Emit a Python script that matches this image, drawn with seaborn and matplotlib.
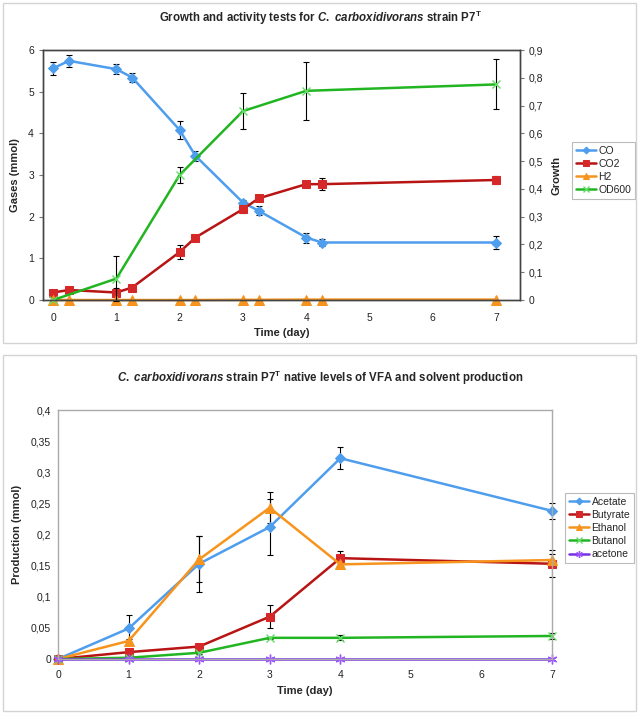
import numpy as np
import pandas as pd
import seaborn as sns
import matplotlib.pyplot as plt
from matplotlib.patches import Rectangle
from matplotlib.ticker import FuncFormatter, MultipleLocator

sns.set_style("white")
plt.rcParams['font.family'] = ['Liberation Sans', 'DejaVu Sans']
plt.rcParams['mathtext.fontset'] = 'custom'
plt.rcParams['mathtext.rm'] = 'Liberation Sans:bold'
plt.rcParams['mathtext.it'] = 'Liberation Sans:italic:bold'
plt.rcParams['mathtext.bf'] = 'Liberation Sans:bold'

# --- top chart data: gases (mmol) and growth (OD600)
t_gas = [0, 0.25, 1, 1.25, 2, 2.25, 3, 3.25, 4, 4.25, 7]
co = [5.56, 5.74, 5.54, 5.34, 4.08, 3.46, 2.34, 2.14, 1.50, 1.38, 1.38]
co_err = [0.15, 0.15, 0.12, 0.10, 0.22, 0.12, 0.06, 0.11, 0.12, 0.09, 0.15]
co2 = [0.18, 0.24, 0.18, 0.30, 1.15, 1.50, 2.18, 2.44, 2.78, 2.78, 2.88]
co2_err = [0.03, 0.06, 0.10, 0.03, 0.16, 0.04, 0.10, 0.04, 0.06, 0.14, 0.10]
h2 = [0, 0, 0, 0, 0, 0, 0.005, 0.005, 0.01, 0.01, 0.01]

t_od = [0, 1, 2, 3, 4, 7]
od600 = [0.0, 0.077, 0.45, 0.68, 0.753, 0.776]
od600_err = [0, 0.082, 0.03, 0.065, 0.105, 0.09]

# --- bottom chart data: production (mmol)
t_prod = [0, 1, 2, 3, 4, 7]
acetate = [0, 0.049, 0.153, 0.212, 0.3225, 0.238]
acetate_err = [0, 0.022, 0.045, 0.045, 0.018, 0.013]
butyrate = [0, 0.011, 0.020, 0.068, 0.162, 0.153]
butyrate_err = [0, 0.003, 0.003, 0.018, 0.012, 0.022]
ethanol = [0, 0.029, 0.160, 0.243, 0.152, 0.159]
ethanol_err = [0, 0.003, 0.037, 0.025, 0.005, 0.010]
butanol = [0, 0.002, 0.010, 0.034, 0.034, 0.037]
butanol_err = [0, 0.001, 0.002, 0.002, 0.004, 0.005]
acetone = [0, 0, 0, 0, 0, 0]

BLUE = '#4f9ded'
RED_L = '#b81414'
RED_M = '#d62828'
ORANGE = '#f7941d'
GREEN = '#22b522'
GREEN_M = '#66dd66'
PURPLE = '#7a2ee6'

W, H = 640, 714
fig = plt.figure(figsize=(W / 100, H / 100), dpi=100)


def px_axes(l, t, r, b):
    return fig.add_axes([l / W, 1 - b / H, (r - l) / W, (b - t) / H])


def comma(v, pos):
    s = ('%.2f' % v).rstrip('0').rstrip('.')
    return s.replace('.', ',')


# panel borders
for (y0, y1) in [(3, 343), (355, 711)]:
    fig.patches.append(Rectangle((3 / W, 1 - y1 / H), 633 / W, (y1 - y0) / H,
                                 transform=fig.transFigure, fill=False,
                                 edgecolor='#d4d4d4', lw=1.0))


def series(ax, x, y, err, color, mcolor, marker, ms, label):
    sns.lineplot(x=x, y=y, ax=ax, color=color, lw=1.8, marker=marker,
                 markersize=ms, markerfacecolor=mcolor, markeredgecolor=mcolor,
                 label=label, legend=False)
    if err is not None:
        ax.errorbar(x, y, yerr=err, fmt='none', ecolor='black', elinewidth=0.8,
                    capsize=2.5, capthick=0.8, zorder=1)


leg_kw = dict(loc='upper left', bbox_transform=fig.transFigure, borderaxespad=0,
              fancybox=False, edgecolor='#bbbbbb', fontsize=7.5, handlelength=2.0,
              handletextpad=0.2, borderpad=0.35, labelspacing=0.3, framealpha=1,
              markerscale=0.7)

# ---------------- top chart
ax1 = px_axes(43, 50, 520, 300)
series(ax1, t_gas, co, co_err, BLUE, BLUE, 'D', 5, 'CO')
series(ax1, t_gas, co2, co2_err, RED_L, RED_M, 's', 6, 'CO2')
series(ax1, t_gas, h2, None, ORANGE, ORANGE, '^', 6.5, 'H2')
ax1.set_xlim(-0.16, 7.38)
ax1.set_ylim(0, 6)
ax1.set_xticks(range(8))
ax1.xaxis.set_minor_locator(MultipleLocator(0.25))
ax1.set_yticks(range(7))

ax2 = ax1.twinx()
sns.lineplot(x=t_od, y=od600, ax=ax2, color=GREEN, lw=1.8, marker='x',
             markersize=6, markeredgecolor=GREEN_M, mew=1.0, label='OD600', legend=False)
ax2.errorbar(t_od, od600, yerr=od600_err, fmt='none', ecolor='black', elinewidth=0.8,
             capsize=2.5, capthick=0.8, zorder=1)
ax2.set_ylim(0, 0.9)
ax2.set_yticks(np.arange(0, 0.91, 0.1))
ax2.yaxis.set_major_formatter(FuncFormatter(comma))

for a in (ax1, ax2):
    for s in a.spines.values():
        s.set_color('#444444')
        s.set_linewidth(1.0)
    a.tick_params(which='both', direction='out', color='#777777', labelsize=7.5,
                  labelcolor='#222222')
    a.tick_params(which='major', length=3, width=0.8)
    a.tick_params(which='minor', length=2, width=0.6)
ax1.tick_params(axis='x', pad=6)

ax1.set_xlabel('Time (day)', fontsize=8, fontweight='bold', labelpad=4)
ax1.set_ylabel('Gases (mmol)', fontsize=8, fontweight='bold', labelpad=6)
ax2.set_ylabel('Growth', fontsize=8, fontweight='bold', labelpad=6)
fig.text(0.5, 1 - 18 / H,
         r'Growth and activity tests for $\mathit{C.\ carboxidivorans}$ strain P7$^\mathrm{T}$',
         ha='center', va='center', fontsize=8.3, fontweight='bold')

h1, l1 = ax1.get_legend_handles_labels()
h2_, l2 = ax2.get_legend_handles_labels()
leg = ax1.legend(h1 + h2_, l1 + l2, bbox_to_anchor=(572 / W, 1 - 142 / H), **leg_kw)
leg.get_frame().set_linewidth(0.8)

# ---------------- bottom chart
ax3 = px_axes(58, 410, 552, 659)
series(ax3, t_prod, acetate, acetate_err, BLUE, BLUE, 'D', 5, 'Acetate')
series(ax3, t_prod, butyrate, butyrate_err, RED_L, RED_M, 's', 6, 'Butyrate')
series(ax3, t_prod, ethanol, ethanol_err, ORANGE, ORANGE, '^', 6.5, 'Ethanol')
sns.lineplot(x=t_prod, y=butanol, ax=ax3, color=GREEN, lw=1.8, marker='x',
             markersize=6, markeredgecolor=GREEN_M, mew=1.0, label='Butanol', legend=False)
ax3.errorbar(t_prod, butanol, yerr=butanol_err, fmt='none', ecolor='black',
             elinewidth=0.8, capsize=2.5, capthick=0.8, zorder=1)
sns.lineplot(x=t_prod, y=acetone, ax=ax3, color=PURPLE, lw=1.8, marker=(6, 2, 0),
             markersize=7, markeredgecolor='#9a55ff', mew=1.0, label='acetone', legend=False)
ax3.set_xlim(0, 7)
ax3.set_ylim(0, 0.4)
ax3.set_xticks(range(8))
ax3.set_yticks(np.arange(0, 0.401, 0.05))
ax3.yaxis.set_major_formatter(FuncFormatter(comma))
for s in ax3.spines.values():
    s.set_color('#aaaaaa')
    s.set_linewidth(1.0)
ax3.tick_params(direction='out', length=0, labelsize=7.5, labelcolor='#222222', pad=5)
ax3.tick_params(axis='x', pad=8)
for ln in ax3.lines:
    ln.set_clip_on(False)
ax3.set_xlabel('Time (day)', fontsize=8, fontweight='bold', labelpad=4)
ax3.set_ylabel('Production (mmol)', fontsize=8, fontweight='bold', labelpad=6)
fig.text(0.5, 1 - 378 / H,
         r'$\mathit{C.\ carboxidivorans}$ strain P7$^\mathrm{T}$ native levels of VFA and solvent production',
         ha='center', va='center', fontsize=8.3, fontweight='bold')
leg3 = ax3.legend(bbox_to_anchor=(565 / W, 1 - 493 / H), **leg_kw)
leg3.get_frame().set_linewidth(0.8)

for ln in ax1.lines + ax2.lines:
    ln.set_clip_on(False)

fig.savefig('out.png', dpi=100)
